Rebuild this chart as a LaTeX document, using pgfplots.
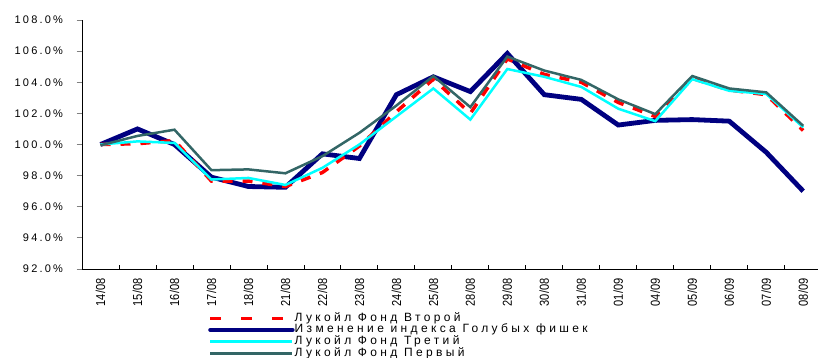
\documentclass[border=0pt]{standalone}
\usepackage{pgfplots}
\pgfplotsset{compat=1.18}
\usepackage{pgfplotstable}
\usepackage{fontspec}
\setmainfont{Liberation Sans}
\newfontfamily\spaced[LetterSpace=20]{Liberation Sans}
\newfontfamily\lspaced[LetterSpace=28]{Liberation Sans}
\newfontfamily\narrowf[FakeStretch=0.85]{Liberation Sans}
\definecolor{navyb}{RGB}{0,0,128}
\definecolor{tealg}{RGB}{51,102,102}
\definecolor{cyanl}{RGB}{0,255,255}
\pgfplotstableread{
x blue red cyan teal
0 100.0 100.0 100.0 99.95
1 101.0 100.05 100.2 100.55
2 100.0 100.25 100.1 100.95
3 97.9 97.65 97.75 98.35
4 97.3 97.65 97.85 98.4
5 97.25 97.3 97.4 98.15
6 99.4 98.2 98.5 99.25
7 99.1 99.9 100.0 100.75
8 103.2 102.1 101.8 102.5
9 104.35 104.2 103.6 104.4
10 103.4 102.0 101.6 102.4
11 105.85 105.5 104.85 105.65
12 103.2 104.5 104.35 104.75
13 102.9 104.0 103.7 104.15
14 101.25 102.7 102.3 102.9
15 101.55 101.8 101.5 101.95
16 101.6 104.25 104.2 104.4
17 101.5 103.5 103.45 103.6
18 99.5 103.2 103.25 103.35
19 97.0 100.9 101.1 101.2
}\data
\begin{document}
\begin{tikzpicture}
\useasboundingbox (-82pt,-89pt) rectangle (736pt,269pt);
\begin{axis}[
  scale only axis, width=736pt, height=249pt,
  xmin=-0.5, xmax=19.4, ymin=92, ymax=108,
  axis x line=bottom, axis y line=left,
  axis line style={-, line width=0.8pt},
  ytick={92,94,...,108},
  /pgf/number format/assume math mode=true,
  yticklabel={\pgfmathprintnumber[fixed,fixed zerofill,precision=1]{\tick}\%},
  yticklabel style={font=\spaced\fontsize{11}{12}\selectfont},
  yticklabel shift=10pt,
  ytick align=outside, major tick length=5.5pt,
  ytick style={line width=0.8pt},
  xtick={0,...,19},
  xticklabels={14/08,15/08,16/08,17/08,18/08,21/08,22/08,23/08,24/08,25/08,28/08,29/08,30/08,31/08,01/09,04/09,05/09,06/09,07/09,08/09},
  xticklabel style={rotate=90, anchor=east, font=\narrowf\fontsize{13}{14}\selectfont},
  xticklabel shift=6pt,
  every major x tick/.append style={draw=none},
  minor xtick={0.5,1.5,...,18.5},
  every minor x tick/.append style={draw=black, line width=0.8pt},
  minor tick length=4pt, xtick align=inside,
  legend style={at={(axis description cs:0.1712,-0.175)}, anchor=north west, draw=none, fill=none, inner sep=0pt,
    font=\lspaced\fontsize{12}{12}\selectfont, row sep=0.7pt,
    nodes={inner sep=0pt, text height=8.5pt, text depth=2.5pt},
    /tikz/every even column/.append style={column sep=3pt}},
  legend cell align=left,
  legend image code/.code={\draw[#1] (0pt,0pt) -- (82pt,0pt);},
]
\addlegendimage{red, line width=3.5pt, dash pattern=on 11pt off 20pt}
\addlegendentry{Лукойл Фонд Второй}
\addlegendimage{navyb, line width=4.5pt, line cap=round}
\addlegendentry{Изменение индекса Голубых фишек}
\addlegendimage{cyanl, line width=2.5pt}
\addlegendentry{Лукойл Фонд Третий}
\addlegendimage{tealg, line width=2.5pt}
\addlegendentry{Лукойл Фонд Первый}
\addplot[navyb, line width=4.8pt, forget plot] table[x=x, y=blue] {\data};
\addplot[red, line width=3.5pt, dash pattern=on 10pt off 10pt, forget plot] table[x=x, y=red] {\data};
\addplot[cyanl, line width=2.5pt, forget plot] table[x=x, y=cyan] {\data};
\addplot[tealg, line width=2.5pt, forget plot] table[x=x, y=teal] {\data};
\end{axis}
\end{tikzpicture}
\end{document}
